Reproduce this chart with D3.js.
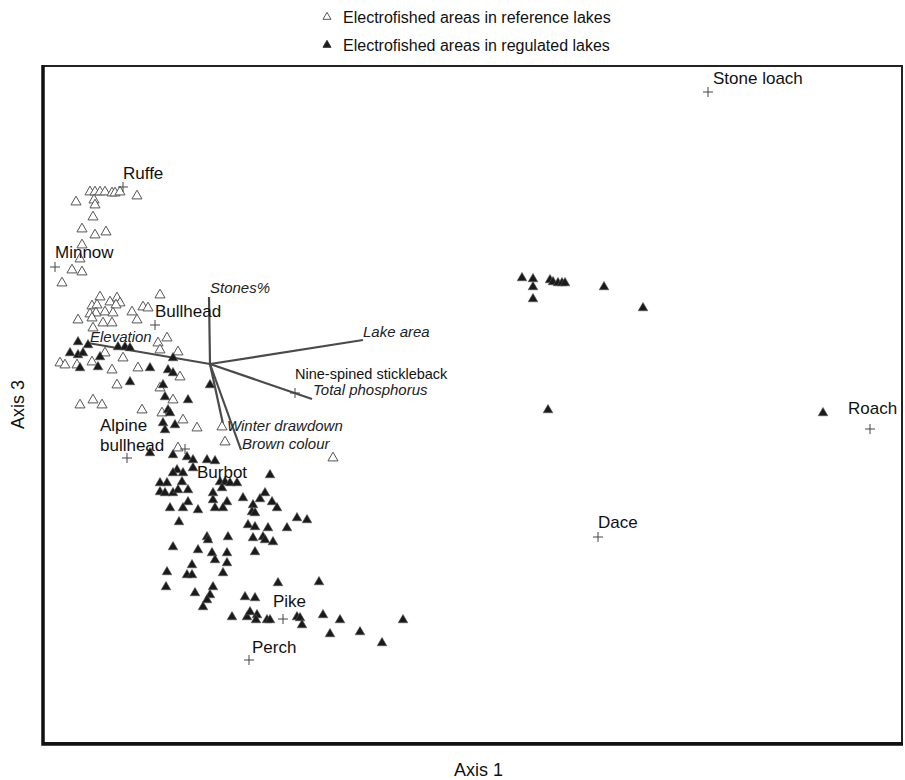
<!DOCTYPE html>
<html lang="en">
<head>
  <meta charset="UTF-8" />
  <title>CCA ordination - Axis 1 vs Axis 3</title>
  <script src="https://d3js.org/d3.v7.min.js"></script>
  <style>
    body {
      margin: 0;
      padding: 0;
      background: white;
      font-family: "Liberation Sans", Arial, sans-serif;
    }
    .legend-text { font-size: 16px; fill: #111; }
    .species-label { font-size: 17px; fill: #111; }
    .env-label { font-size: 15px; font-style: italic; fill: #222; }
    .axis-title { font-size: 18px; fill: #111; }
    .env-arrow { stroke: #4a4a4a; stroke-width: 2.2px; }
    .species-cross { stroke: #444; stroke-width: 1px; }
  </style>
</head>
<body>
  <svg id="chart" width="905" height="780"></svg>
  <script>
    // frame of the plot in pixels
    const frame = { left: 43, right: 902, top: 66, bottom: 743 };

    // site scores (Axis 1, Axis 3) - reference lakes
    const referenceSites = [
      [-1.20, 1.72], [-1.15, 1.72], [-1.10, 1.72], [-1.05, 1.72], [-0.98, 1.71], [-0.95, 1.71],
      [-0.90, 1.72], [-0.73, 1.68], [-1.34, 1.62], [-1.16, 1.64], [-1.15, 1.59], [-1.17, 1.47],
      [-1.28, 1.35], [-1.15, 1.29], [-1.04, 1.32], [-1.28, 1.19], [-1.30, 1.05], [-1.38, 0.94],
      [-1.28, 0.92], [-1.48, 0.81], [-1.10, 0.67], [-0.93, 0.66], [-0.50, 0.69], [-1.18, 0.58],
      [-1.13, 0.59], [-1.00, 0.62], [-0.90, 0.61], [-0.94, 0.59], [-1.05, 0.52], [-1.14, 0.51],
      [-1.20, 0.50], [-0.97, 0.51], [-0.78, 0.52], [-0.67, 0.57], [-0.62, 0.56], [-1.32, 0.44],
      [-1.18, 0.46], [-1.07, 0.41], [-0.98, 0.41], [-0.73, 0.44], [-1.17, 0.36], [-0.43, 0.26],
      [-0.52, 0.21], [-0.50, 0.14], [-0.32, 0.12], [-1.05, 0.11], [-0.87, 0.06], [-1.50, 0.01],
      [-1.45, -0.01], [-1.33, -0.01], [-1.18, 0.02], [-0.98, -0.06], [-0.72, -0.04], [-0.30, -0.13],
      [-0.50, -0.24], [-0.93, -0.21], [-0.37, -0.36], [-1.30, -0.41], [-1.17, -0.36], [-1.08, -0.41],
      [-0.68, -0.46], [-0.48, -0.49], [-0.27, -0.56], [-0.13, -0.64], [0.12, -0.63], [0.15, -0.78],
      [-0.32, -0.84], [1.23, -0.94]
    ];

    // site scores (Axis 1, Axis 3) - regulated lakes
    const regulatedSites = [
      [-1.32, 0.22], [-1.22, 0.19], [-1.40, 0.11], [-1.32, 0.09], [-1.27, 0.11], [-1.10, 0.07],
      [-0.92, 0.17], [-0.85, 0.17], [-0.80, 0.16], [-0.37, 0.06], [-1.30, -0.04], [-1.12, -0.03],
      [-0.60, -0.04], [-0.42, -0.06], [-0.37, -0.09], [-0.80, -0.18], [-0.47, -0.21], [-0.45, -0.33],
      [-0.22, -0.36], [0.00, -0.21], [-0.42, -0.46], [-0.40, -0.49], [-0.47, -0.59], [-0.35, -0.61],
      [-0.45, -0.66], [-0.60, -0.89], [-0.37, -0.91], [-0.23, -0.93], [-0.17, -0.96], [-0.03, -0.96],
      [0.05, -0.97], [-0.33, -1.06], [-0.27, -1.09], [-0.37, -1.09], [-0.17, -1.04], [0.60, -1.11],
      [-0.50, -1.19], [-0.43, -1.19], [-0.28, -1.18], [0.10, -1.18], [0.15, -1.18], [0.20, -1.19],
      [0.27, -1.19], [-0.50, -1.28], [-0.45, -1.29], [-0.37, -1.29], [-0.22, -1.26], [-0.32, -1.26],
      [0.12, -1.24], [0.03, -1.29], [0.55, -1.29], [0.33, -1.34], [0.50, -1.35], [0.62, -1.38],
      [0.03, -1.36], [0.17, -1.38], [-0.22, -1.38], [-0.40, -1.44], [-0.27, -1.44], [-0.12, -1.46],
      [0.05, -1.44], [0.13, -1.44], [0.43, -1.41], [0.42, -1.48], [0.45, -1.49], [0.67, -1.44],
      [-0.31, -1.58], [0.87, -1.54], [0.97, -1.56], [0.38, -1.61], [0.45, -1.63], [0.58, -1.64],
      [0.77, -1.64], [-0.03, -1.73], [-0.02, -1.76], [0.18, -1.73], [0.43, -1.74], [0.53, -1.73],
      [0.55, -1.76], [0.63, -1.78], [-0.37, -1.83], [-0.12, -1.86], [0.02, -1.89], [0.17, -1.89],
      [0.45, -1.88], [0.05, -1.96], [0.17, -1.99], [-0.18, -2.01], [-0.23, -2.11], [-0.18, -2.11],
      [0.13, -2.09], [-0.43, -2.08], [-0.44, -2.23], [0.68, -2.19], [1.09, -2.18], [0.03, -2.23],
      [-0.15, -2.29], [0.00, -2.31], [-0.03, -2.36], [-0.07, -2.43], [0.35, -2.33], [0.45, -2.34],
      [0.22, -2.53], [0.37, -2.53], [0.40, -2.48], [0.47, -2.51], [0.46, -2.56], [0.57, -2.56],
      [0.60, -2.56], [0.87, -2.53], [0.90, -2.54], [0.92, -2.61], [1.13, -2.51], [1.30, -2.56],
      [1.20, -2.70], [1.50, -2.68], [1.72, -2.79], [1.93, -2.56],
      [3.12, 0.86], [3.23, 0.85], [3.23, 0.77], [3.23, 0.65], [3.40, 0.84], [3.43, 0.82],
      [3.48, 0.81], [3.52, 0.81], [3.55, 0.81], [3.94, 0.77], [4.33, 0.56], [3.38, -0.46],
      [6.13, -0.49]
    ];

    // species scores
    const species = ["Stone loach", "Ruffe", "Minnow", "Bullhead", "Alpine bullhead", "Burbot",
                     "Nine-spined stickleback", "Pike", "Perch", "Dace", "Roach"];
    const speciesX = [4.98, -0.87, -1.55, -0.55, -0.83, -0.25, 0.85, 0.73, 0.39, 3.88, 6.60];
    const speciesY = [2.72, 1.77, 0.97, 0.39, -0.94, -0.85, -0.29, -2.55, -2.96, -1.73, -0.65];

    // environmental variables (biplot arrows)
    const envVars = ["Stones%", "Lake area", "Elevation", "Total phosphorus", "Winter drawdown", "Brown colour"];
    const envX = [-0.01, 1.53, -1.22, 1.02, 0.13, 0.31];
    const envY = [0.67, 0.24, 0.21, -0.35, -0.60, -0.86];

    const legendItems = ["Electrofished areas in reference lakes", "Electrofished areas in regulated lakes"];

    // label placement relative to the point (px)
    const speciesLabelPos = {
      "Stone loach": [5, -8], "Ruffe": [0, -8], "Minnow": [0, -9], "Bullhead": [0, -8],
      "Alpine bullhead": [-27, -27], "Burbot": [12, 29], "Nine-spined stickleback": [0, -14],
      "Pike": [-10, -12], "Perch": [3, -7], "Dace": [0, -9], "Roach": [-22, -15]
    };
    const envLabelPos = {
      "Stones%": [1, -4], "Lake area": [0, -3], "Elevation": [2, -1],
      "Total phosphorus": [1, -4], "Winter drawdown": [4, 7], "Brown colour": [1, -1]
    };

    const svg = d3.select("#chart");

    const x = d3.scaleLinear().domain([-1.67, 6.92]).range([frame.left, frame.right]);
    const y = d3.scaleLinear().domain([-3.79, 2.98]).range([frame.bottom, frame.top]);

    // frame (thin top/right, heavier left/bottom)
    svg.append("rect")
      .attr("x", frame.left).attr("y", frame.top)
      .attr("width", frame.right - frame.left).attr("height", frame.bottom - frame.top)
      .attr("fill", "none").attr("stroke", "#222").attr("stroke-width", 2);
    svg.append("path")
      .attr("d", `M${frame.left},${frame.top - 1}V${frame.bottom + 1}H${frame.right + 1}`)
      .attr("fill", "none").attr("stroke", "#111").attr("stroke-width", 3.5);

    // env arrows
    const plot = svg.append("g");
    plot.selectAll(".env-arrow")
      .data(envVars)
      .join("line")
      .attr("class", "env-arrow")
      .attr("x1", x(0)).attr("y1", y(0))
      .attr("x2", (d, i) => x(envX[i]))
      .attr("y2", (d, i) => y(envY[i]));

    const tri = d3.symbol().type(d3.symbolTriangle).size(44);

    // reference (hollow)
    plot.selectAll(".ref")
      .data(referenceSites)
      .join("path")
      .attr("class", "ref")
      .attr("d", tri)
      .attr("transform", d => `translate(${x(d[0])},${y(d[1])})`)
      .attr("fill", "white")
      .attr("stroke", "#555")
      .attr("stroke-width", 1);

    // regulated (filled)
    plot.selectAll(".reg")
      .data(regulatedSites)
      .join("path")
      .attr("class", "reg")
      .attr("d", d3.symbol().type(d3.symbolTriangle).size(40))
      .attr("transform", d => `translate(${x(d[0])},${y(d[1])})`)
      .attr("fill", "#1a1a1a")
      .attr("stroke", "#555")
      .attr("stroke-width", 0.6);

    // species crosses
    plot.selectAll(".species-cross")
      .data(species)
      .join("path")
      .attr("class", "species-cross")
      .attr("d", (d, i) => {
        const cx = x(speciesX[i]), cy = y(speciesY[i]);
        return `M${cx - 5},${cy}H${cx + 5}M${cx},${cy - 5}V${cy + 5}`;
      });

    // species labels
    species.forEach((s, i) => {
      const [dx, dy] = speciesLabelPos[s];
      const t = plot.append("text")
        .attr("class", "species-label")
        .attr("x", x(speciesX[i]) + dx)
        .attr("y", y(speciesY[i]) + dy);
      if (s === "Alpine bullhead") {
        t.append("tspan").text("Alpine");
        t.append("tspan").attr("x", x(speciesX[i]) + dx).attr("dy", 20).text("bullhead");
      } else if (s === "Nine-spined stickleback") {
        t.style("font-size", "14.5px").text(s);
      } else {
        t.text(s);
      }
    });

    // env labels
    plot.selectAll(".env-label")
      .data(envVars)
      .join("text")
      .attr("class", "env-label")
      .attr("x", (d, i) => x(envX[i]) + envLabelPos[d][0])
      .attr("y", (d, i) => y(envY[i]) + envLabelPos[d][1])
      .text(d => d);

    // legend
    const legend = svg.append("g");
    legendItems.forEach((lab, i) => {
      const ly = 17 + i * 28;
      legend.append("path")
        .attr("d", d3.symbol().type(d3.symbolTriangle).size(28))
        .attr("transform", `translate(327,${ly})`)
        .attr("fill", i === 0 ? "white" : "#1a1a1a")
        .attr("stroke", i === 0 ? "#555" : "#333")
        .attr("stroke-width", 1);
      legend.append("text")
        .attr("class", "legend-text")
        .attr("x", 343).attr("y", ly + 6)
        .text(lab);
    });

    // axis titles
    svg.append("text")
      .attr("class", "axis-title")
      .attr("x", (frame.left + frame.right) / 2 + 6)
      .attr("y", 776)
      .attr("text-anchor", "middle")
      .text("Axis 1");

    svg.append("text")
      .attr("class", "axis-title")
      .attr("transform", `translate(24,${(frame.top + frame.bottom) / 2}) rotate(-90)`)
      .attr("text-anchor", "middle")
      .text("Axis 3");
  </script>
</body>
</html>
